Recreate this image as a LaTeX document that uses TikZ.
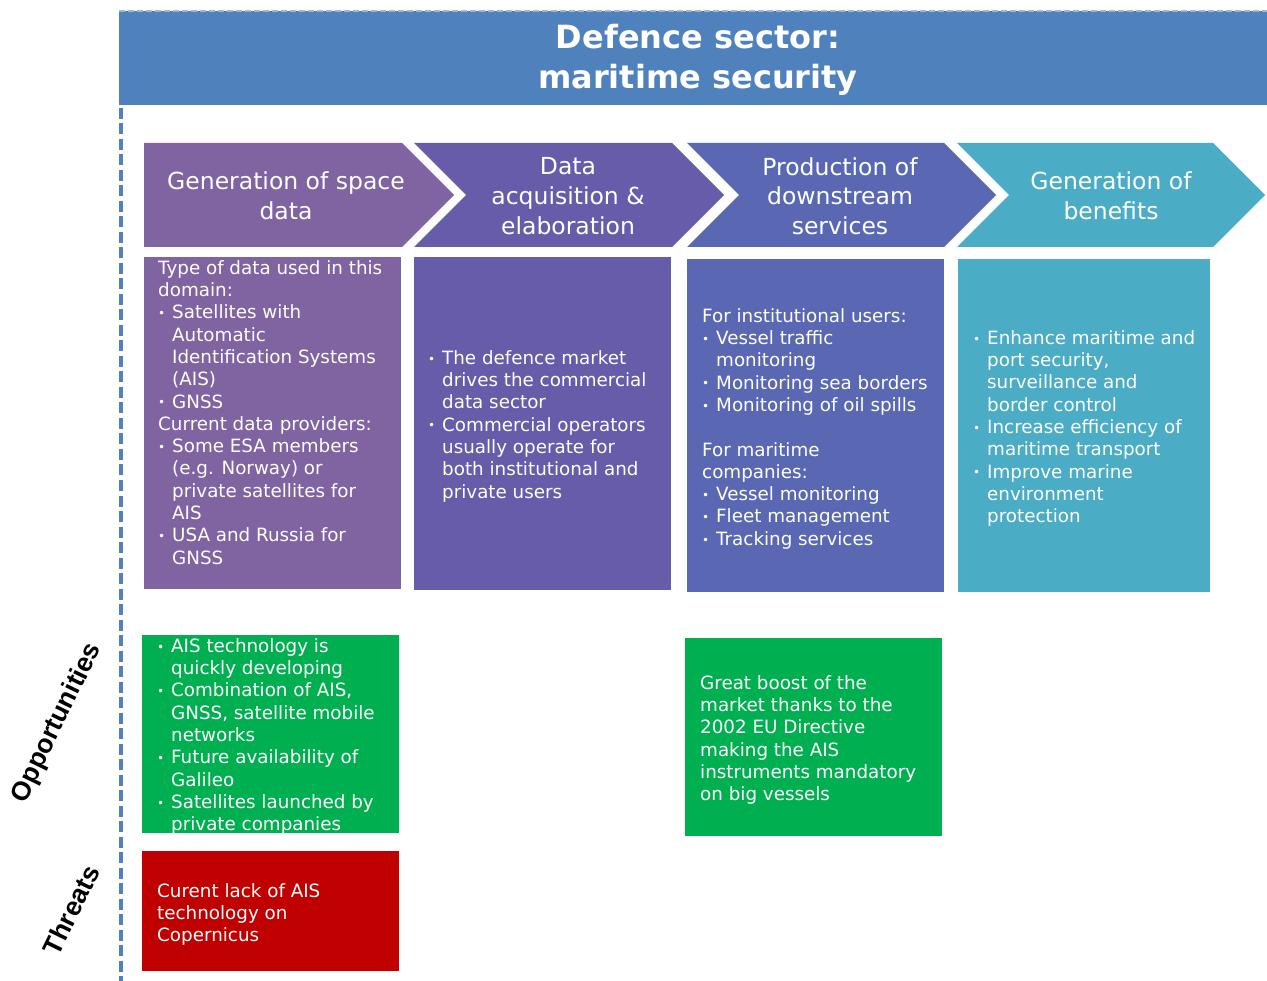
\documentclass[tikz,border=0pt]{standalone}
\usepackage{fontspec}
\setmainfont{DejaVu Sans}
\newfontfamily\labfont{Liberation Sans}
\definecolor{titleblue}{HTML}{4F81BD}
\definecolor{cone}{HTML}{8064A2}
\definecolor{ctwo}{HTML}{675CA9}
\definecolor{cthree}{HTML}{5A68B3}
\definecolor{cfour}{HTML}{4BACC6}
\definecolor{oppgreen}{HTML}{00B050}
\definecolor{thrred}{HTML}{C00000}
\newcommand{\bodyfont}{\fontsize{18.3}{22.3}\selectfont}
\newcommand{\bu}{\makebox[14pt][l]{\raisebox{1.2pt}{\fontsize{12}{12}\selectfont •}}}
\newcommand{\ii}{\hspace*{14pt}}
\tikzset{
  bodytxt/.style={text=white, align=left, anchor=north west, inner sep=0pt, font=\bodyfont},
  chevtxt/.style={text=white, align=center, anchor=center, inner sep=0pt, font=\fontsize{23.5}{29.7}\selectfont},
  sidelabel/.style={text=black, anchor=center, inner sep=0pt, rotate=64, font=\labfont\bfseries\fontsize{26.5}{28}\selectfont},
}
\begin{document}
\begin{tikzpicture}[x=1pt,y=-1pt]
\useasboundingbox (0,0) rectangle (1267,981);
% title band
\fill[titleblue] (119,11) rectangle (1267,105);
\draw[titleblue!55, line width=1.5pt, dash pattern=on 6pt off 3pt] (119,11) -- (1267,11);
\draw[titleblue, line width=4pt, dash pattern=on 11pt off 4.5pt] (121,108) -- (121,981);
\node[text=white, align=center, inner sep=0pt, font=\bfseries\fontsize{32}{40}\selectfont] (title) at (698,60) {Defence sector:\\maritime security};
% chevrons
\fill[cone] (144,143) -- (402,143) -- (454,195) -- (402,247) -- (144,247) -- cycle;
\fill[ctwo] (414,143) -- (672,143) -- (724,195) -- (672,247) -- (414,247) -- (466,195) -- cycle;
\fill[cthree] (687,143) -- (944,143) -- (996,195) -- (944,247) -- (687,247) -- (739,195) -- cycle;
\fill[cfour] (957,143) -- (1213,143) -- (1265,195) -- (1213,247) -- (957,247) -- (1009,195) -- cycle;
\node[chevtxt] (h1) at (286,196) {Generation of space\\data};
\node[chevtxt] (h2) at (568,196) {Data\\acquisition \&\\elaboration};
\node[chevtxt] (h3) at (840,196) {Production of\\downstream\\services};
\node[chevtxt] (h4) at (1111,196) {Generation of\\benefits};
% body boxes
\fill[cone] (144,257) rectangle (401,589);
\fill[ctwo] (414,257) rectangle (671,590);
\fill[cthree] (687,259) rectangle (944,592);
\fill[cfour] (958,259) rectangle (1210,592);
\fill[oppgreen] (142,635) rectangle (399,833);
\fill[oppgreen] (685,638) rectangle (942,836);
\fill[thrred] (142,851) rectangle (399,971);
% body texts
\node[bodytxt] (b1) at (158,258.4) {\strut Type of data used in this\\domain:\\\bu Satellites with\\\ii Automatic\\\ii Identification Systems\\\ii (AIS)\\\bu GNSS\\Current data providers:\\\bu Some ESA members\\\ii (e.g. Norway) or\\\ii private satellites for\\\ii AIS\\\bu USA and Russia for\\\ii GNSS};
\node[bodytxt] (b2) at (428,348.4) {\strut\bu The defence market\\\ii drives the commercial\\\ii data sector\\\bu Commercial operators\\\ii usually operate for\\\ii both institutional and\\\ii private users};
\node[bodytxt] (b3) at (702,306.4) {\strut For institutional users:\\\bu Vessel traffic\\\ii monitoring\\\bu Monitoring sea borders\\\bu Monitoring of oil spills\\\strut\\For maritime\\companies:\\\bu Vessel monitoring\\\bu Fleet management\\\bu Tracking services};
\node[bodytxt] (b4) at (973,328.4) {\strut\bu Enhance maritime and\\\ii port security,\\\ii surveillance and\\\ii border control\\\bu Increase efficiency of\\\ii maritime transport\\\bu Improve marine\\\ii environment\\\ii protection};
\node[bodytxt] (o1) at (157,636.4) {\strut\bu AIS technology is\\\ii quickly developing\\\bu Combination of AIS,\\\ii GNSS, satellite mobile\\\ii networks\\\bu Future availability of\\\ii Galileo\\\bu Satellites launched by\\\ii private companies};
\node[bodytxt] (o2) at (700,673.4) {\strut Great boost of the\\market thanks to the\\2002 EU Directive\\making the AIS\\instruments mandatory\\on big vessels};
\node[bodytxt] (t1) at (157,881.4) {\strut Curent lack of AIS\\technology on\\Copernicus};
% side labels
\node[sidelabel] (opp) at (57,723) {Opportunities};
\node[sidelabel] (thr) at (71,910) {Threats};
\end{tikzpicture}
\end{document}
